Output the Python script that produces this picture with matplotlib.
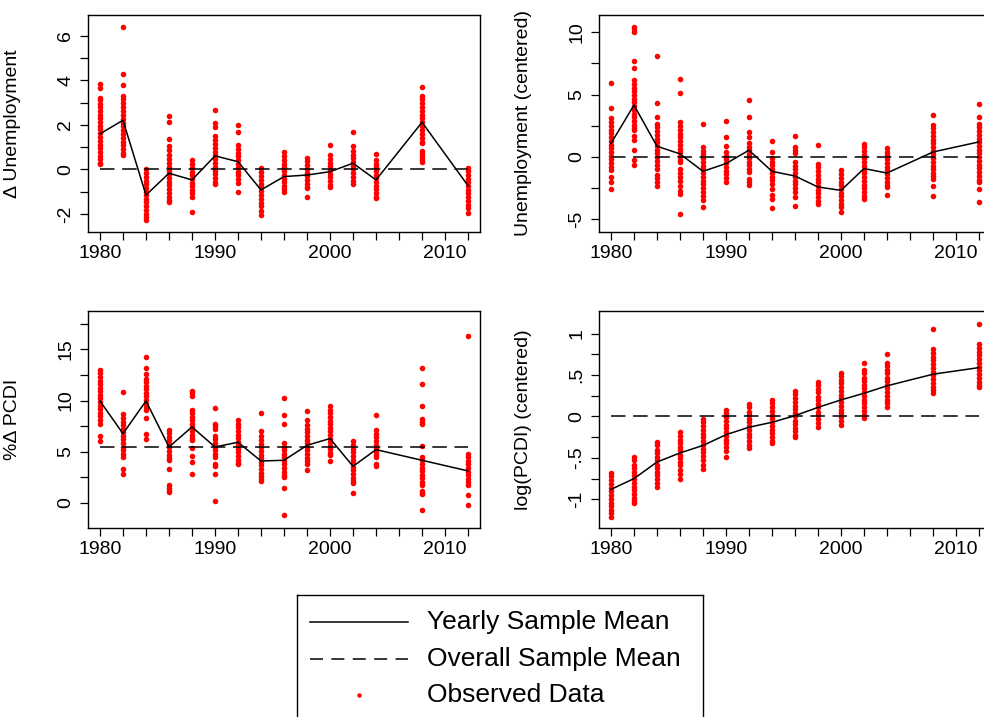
import matplotlib
matplotlib.use("Agg")
import matplotlib.pyplot as plt
import numpy as np

plt.rcParams['font.family'] = ['Liberation Sans', 'DejaVu Sans']

years = [1980, 1982, 1984, 1986, 1988, 1990, 1992, 1994, 1996, 1998, 2000, 2002, 2004, 2008, 2012]

# change in unemployment, one list of observations per year
d_unemp = [
    [3.83, 3.68, 3.23, 3.1, 2.95, 2.8, 2.62, 2.45, 2.3, 2.12, 1.95, 1.8, 1.62, 1.45, 1.3, 1.12, 0.95, 0.8, 0.62, 0.45, 0.3, 0.23],
    [6.39, 4.29, 3.78, 3.32, 3.15, 2.98, 2.8, 2.62, 2.45, 2.28, 2.1, 1.95, 1.78, 1.6, 1.42, 1.25, 1.08, 0.9, 0.75, 0.65],
    [0.01, -0.15, -0.32, -0.5, -0.66, -0.82, -1.0, -1.15, -1.32, -1.48, -1.65, -1.8, -1.98, -2.12, -2.27],
    [2.42, 2.15, 1.37, 1.07, 0.88, 0.65, 0.48, 0.3, 0.12, -0.05, -0.22, -0.4, -0.56, -0.72, -0.9, -1.06, -1.22, -1.38, -1.47],
    [0.42, 0.25, 0.08, -0.1, -0.26, -0.42, -0.6, -0.76, -0.92, -1.08, -1.24, -1.9],
    [2.69, 2.1, 1.92, 1.49, 1.32, 1.15, 0.98, 0.8, 0.63, 0.46, 0.3, 0.12, -0.05, -0.22, -0.4, -0.55, -0.67],
    [2.0, 1.67, 1.1, 0.93, 0.76, 0.6, 0.42, 0.25, 0.08, -0.1, -0.27, -0.45, -0.62, -1.02],
    [0.05, -0.12, -0.3, -0.47, -0.64, -0.8, -0.98, -1.15, -1.32, -1.5, -1.66, -1.85, -2.04],
    [0.77, 0.6, 0.43, 0.26, 0.09, -0.08, -0.25, -0.42, -0.58, -0.75, -0.9, -1.0],
    [0.53, 0.36, 0.2, 0.03, -0.14, -0.3, -0.47, -0.64, -0.8, -0.85, -1.24],
    [1.1, 0.65, 0.48, 0.3, 0.14, -0.03, -0.2, -0.36, -0.52, -0.68, -0.77],
    [1.67, 1.07, 0.83, 0.66, 0.5, 0.33, 0.16, 0.0, -0.17, -0.34, -0.5, -0.67],
    [0.69, 0.43, 0.26, 0.1, -0.07, -0.24, -0.4, -0.57, -0.74, -0.9, -1.07, -1.22, -1.3],
    [3.71, 3.32, 3.15, 2.98, 2.8, 2.63, 2.46, 2.3, 2.12, 1.95, 1.78, 1.6, 1.43, 1.25, 1.18, 0.83, 0.7, 0.55, 0.42, 0.32],
    [0.08, -0.08, -0.25, -0.42, -0.58, -0.75, -0.92, -1.08, -1.25, -1.42, -1.58, -1.72, -1.94],
]
m_unemp = [1.6, 2.21, -1.15, -0.17, -0.47, 0.61, 0.35, -0.92, -0.32, -0.25, -0.1, 0.28, -0.47, 2.12, -0.73]

# unemployment (centered)
c_unemp = [
    [5.9, 3.89, 3.09, 2.8, 2.5, 2.2, 1.9, 1.6, 1.3, 1.0, 0.7, 0.4, 0.1, -0.2, -0.5, -0.8, -1.07, -1.6, -2.0, -2.54],
    [10.45, 10.25, 10.05, 7.72, 7.1, 6.17, 5.87, 5.57, 5.27, 4.97, 4.67, 4.37, 4.07, 3.77, 3.47, 3.17, 2.87, 2.57, 2.3, 2.15, 1.69, 1.34, 0.54, -0.27, -0.67],
    [8.12, 4.29, 3.22, 2.68, 2.38, 2.08, 1.78, 1.48, 1.18, 0.88, 0.58, 0.28, -0.02, -0.32, -0.62, -0.93, -1.41, -1.7, -2.0, -2.33],
    [6.22, 5.1, 2.77, 2.47, 2.17, 1.87, 1.57, 1.27, 0.97, 0.67, 0.37, 0.07, -0.23, -0.4, -0.93, -1.25, -1.6, -1.95, -2.3, -2.7, -2.94, -4.55],
    [2.63, 0.8, 0.5, 0.2, -0.1, -0.4, -0.7, -1.0, -1.3, -1.6, -1.9, -2.2, -2.5, -2.8, -3.1, -3.48, -4.02],
    [2.87, 1.61, 0.88, 0.4, 0.1, -0.2, -0.5, -0.8, -1.1, -1.4, -1.7, -2.0],
    [4.61, 3.22, 2.0, 1.6, 1.13, 0.83, 0.53, 0.23, -0.07, -0.37, -0.67, -0.97, -1.2, -1.74, -2.0, -2.27],
    [1.29, 0.4, -0.08, -0.38, -0.68, -0.98, -1.28, -1.58, -1.88, -2.18, -2.54, -3.08, -3.35, -4.1],
    [1.69, 0.8, 0.55, 0.35, -0.4, -0.7, -1.0, -1.3, -1.6, -1.9, -2.2, -2.5, -2.8, -3.21, -3.94],
    [1.0, -0.53, -0.83, -1.13, -1.43, -1.73, -2.03, -2.33, -2.63, -2.93, -3.23, -3.53, -3.8],
    [-1.07, -1.37, -1.67, -1.97, -2.27, -2.57, -2.87, -3.17, -3.47, -3.77, -4.02, -4.42],
    [1.08, 0.78, 0.48, 0.18, -0.12, -0.42, -0.72, -1.02, -1.32, -1.62, -1.92, -2.22, -2.52, -2.82, -3.12, -3.35],
    [0.72, 0.42, 0.12, -0.18, -0.48, -0.78, -1.08, -1.38, -1.68, -1.98, -2.25, -2.41, -3.02],
    [3.35, 2.6, 2.3, 2.0, 1.7, 1.4, 1.1, 0.8, 0.5, 0.2, -0.1, -0.4, -0.7, -1.0, -1.3, -1.55, -1.74, -2.33, -3.13],
    [4.21, 3.22, 2.68, 2.38, 2.08, 1.78, 1.48, 1.18, 0.88, 0.58, 0.28, -0.02, -0.32, -0.62, -0.92, -1.22, -1.52, -1.82, -2.0, -2.6, -3.62],
]
m_cunemp = [1.08, 4.16, 0.86, 0.25, -1.15, -0.53, 0.54, -1.15, -1.53, -2.41, -2.68, -0.93, -1.29, 0.4, 1.21]

# percent change in PCDI
p_pcdi = [
    [13.0, 12.65, 12.3, 11.95, 11.6, 11.25, 10.9, 10.55, 10.2, 9.85, 9.5, 9.15, 8.8, 8.45, 8.1, 7.75, 6.5, 6.1],
    [10.84, 8.66, 8.3, 7.95, 7.6, 7.25, 6.9, 6.55, 6.2, 5.85, 5.5, 5.15, 4.8, 4.5, 3.36, 2.87],
    [14.26, 13.2, 12.57, 12.15, 11.8, 11.45, 11.1, 10.75, 10.4, 10.05, 9.7, 9.35, 9.05, 8.33, 6.7, 6.2],
    [7.17, 6.82, 6.47, 6.12, 5.77, 5.42, 5.07, 4.72, 4.4, 4.17, 3.36, 1.8, 1.5, 1.25, 1.07],
    [10.94, 10.7, 10.42, 9.12, 8.77, 8.42, 8.07, 7.72, 7.37, 7.02, 6.67, 6.32, 6.12, 5.4, 4.56, 4.0, 2.8],
    [9.31, 7.75, 7.5, 7.27, 6.54, 6.2, 5.85, 5.5, 5.15, 4.8, 4.5, 3.85, 3.58, 2.87, 0.2],
    [8.08, 7.73, 7.38, 7.03, 6.68, 6.33, 5.98, 5.63, 5.28, 4.93, 4.58, 4.23, 3.9, 3.78],
    [8.79, 7.03, 6.5, 6.12, 5.77, 5.42, 5.07, 4.72, 4.37, 4.02, 3.67, 3.32, 2.97, 2.62, 2.3, 2.15],
    [10.29, 8.63, 7.75, 5.86, 5.51, 5.16, 4.81, 4.46, 4.11, 3.76, 3.41, 3.06, 2.75, 2.54, 1.5, -1.2],
    [8.98, 8.08, 7.59, 7.24, 6.89, 6.54, 6.19, 5.84, 5.49, 5.14, 4.79, 4.44, 4.09, 3.78, 3.19],
    [9.44, 9.09, 8.74, 8.39, 8.04, 7.69, 7.34, 6.99, 6.64, 6.29, 5.94, 5.59, 5.24, 4.89, 4.66, 4.07],
    [6.06, 5.63, 5.28, 4.93, 4.58, 4.23, 3.88, 3.53, 3.18, 2.83, 2.48, 2.15, 1.95, 1.01],
    [8.63, 7.1, 6.75, 6.4, 6.05, 5.7, 5.35, 5.0, 4.65, 4.5, 3.78, 3.6],
    [13.18, 11.59, 9.44, 8.24, 7.95, 7.69, 5.57, 4.5, 4.15, 3.8, 3.45, 3.1, 2.75, 2.4, 2.05, 1.73, 1.17, 1.0, 0.85, -0.71],
    [16.31, 4.82, 4.47, 4.12, 3.77, 3.42, 3.07, 2.72, 2.37, 2.02, 1.73, 0.82, -0.22],
]
m_ppcdi = [9.96, 6.77, 9.96, 5.47, 7.42, 5.47, 5.93, 4.1, 4.17, 5.63, 6.29, 3.58, 5.21, 4.17, 3.13]

# log(PCDI) centered
l_pcdi = [
    [-0.68, -0.72, -0.77, -0.81, -0.86, -0.9, -0.95, -0.99, -1.04, -1.08, -1.13, -1.17, -1.21],
    [-0.49, -0.53, -0.58, -0.62, -0.67, -0.71, -0.76, -0.8, -0.85, -0.89, -0.94, -0.98, -1.02, -1.04],
    [-0.31, -0.35, -0.4, -0.44, -0.49, -0.53, -0.58, -0.62, -0.67, -0.71, -0.76, -0.8, -0.85],
    [-0.19, -0.23, -0.28, -0.32, -0.37, -0.41, -0.46, -0.5, -0.55, -0.59, -0.64, -0.7, -0.75],
    [-0.03, -0.07, -0.12, -0.16, -0.21, -0.25, -0.3, -0.34, -0.39, -0.43, -0.48, -0.53, -0.58, -0.63],
    [0.08, 0.04, -0.01, -0.05, -0.1, -0.14, -0.19, -0.23, -0.28, -0.32, -0.37, -0.42, -0.49],
    [0.15, 0.11, 0.06, 0.02, -0.03, -0.07, -0.12, -0.16, -0.21, -0.25, -0.3, -0.35, -0.38],
    [0.2, 0.16, 0.11, 0.07, 0.02, -0.02, -0.07, -0.11, -0.16, -0.2, -0.25, -0.29, -0.32],
    [0.31, 0.27, 0.22, 0.18, 0.13, 0.09, 0.04, 0.0, -0.05, -0.09, -0.14, -0.18, -0.22, -0.25],
    [0.42, 0.38, 0.33, 0.29, 0.24, 0.2, 0.15, 0.11, 0.06, 0.02, -0.03, -0.08, -0.13],
    [0.53, 0.49, 0.44, 0.4, 0.35, 0.31, 0.26, 0.22, 0.17, 0.13, 0.08, 0.04, -0.01, -0.05, -0.1],
    [0.64, 0.56, 0.52, 0.47, 0.43, 0.38, 0.34, 0.29, 0.25, 0.2, 0.16, 0.11, 0.07, 0.02, -0.02],
    [0.76, 0.65, 0.61, 0.56, 0.52, 0.47, 0.43, 0.38, 0.34, 0.29, 0.25, 0.2, 0.16, 0.12],
    [1.06, 0.81, 0.77, 0.72, 0.68, 0.63, 0.59, 0.54, 0.5, 0.45, 0.41, 0.36, 0.32, 0.28],
    [1.12, 0.87, 0.83, 0.78, 0.74, 0.69, 0.65, 0.6, 0.56, 0.51, 0.47, 0.42, 0.38, 0.36],
]
m_lpcdi = [-0.88, -0.75, -0.55, -0.44, -0.35, -0.22, -0.13, -0.07, 0.01, 0.11, 0.2, 0.28, 0.37, 0.51, 0.59]

overall = [0.0, 0.0, 5.47, 0.0]
ylabels = ["\u0394 Unemployment", "Unemployment (centered)", "%\u0394 PCDI", "log(PCDI) (centered)"]

W, H = 984, 717
fig = plt.figure(figsize=(W / 100, H / 100), dpi=100)


def px_axes(x0, y0, x1, y1):
    return fig.add_axes([x0 / W, (H - y1) / H, (x1 - x0) / W, (y1 - y0) / H])


panels = [
    (px_axes(88, 15, 480, 232), d_unemp, m_unemp, (-2.81, 6.94),
     [-2, -1, 0, 1, 2, 3, 4, 5, 6], ["-2", "", "0", "", "2", "", "4", "", "6"]),
    (px_axes(599, 15, 991, 232), c_unemp, m_cunemp, (-6.02, 11.39),
     [-5, -2.5, 0, 2.5, 5, 7.5, 10], ["-5", "", "0", "", "5", "", "10"]),
    (px_axes(88, 311, 480, 528), p_pcdi, m_ppcdi, (-2.44, 18.74),
     [0, 2.5, 5, 7.5, 10, 12.5, 15, 17.5], ["0", "", "5", "", "10", "", "15", ""]),
    (px_axes(599, 311, 991, 528), l_pcdi, m_lpcdi, (-1.346, 1.273),
     [-1, -0.75, -0.5, -0.25, 0, 0.25, 0.5, 0.75, 1], ["-1", "", "-.5", "", "0", "", ".5", "", "1"]),
]

xt = list(range(1980, 2013, 2))
xtl = [str(y) if y % 10 == 0 else "" for y in xt]
dash = (9.5, 5)

for i, (ax, obs, means, ylim, yt, ytl) in enumerate(panels):
    for yr, vals in zip(years, obs):
        ax.plot([yr] * len(vals), vals, 'o', color='#ff0000', ms=4.0, mec='none', zorder=2)
    ax.plot(years, means, '-', color='black', lw=1.1, zorder=3)
    ax.plot([years[0], years[-1]], [overall[i], overall[i]], color='black', lw=1.1,
            dashes=dash, zorder=3)
    ax.set_xlim(1978.96, 2013.04)
    ax.set_ylim(*ylim)
    ax.set_xticks(xt)
    ax.set_xticklabels(xtl)
    ax.set_yticks(yt)
    ax.set_yticklabels(ytl, rotation=90, va='center')
    ax.tick_params(length=5.5, width=0.9, labelsize=14, pad=3.8)
    ax.tick_params(axis='y', pad=4.5)
    for s in ax.spines.values():
        s.set_linewidth(1.0)
    ax.set_ylabel(ylabels[i], fontsize=14)
    ax.yaxis.set_label_coords(-0.17, 0.5)

# legend drawn in its own pixel-unit box
lg = px_axes(297, 595, 703, 740)
lg.set_xlim(0, 406)
lg.set_ylim(145, 0)
lg.set_xticks([])
lg.set_yticks([])
for s in lg.spines.values():
    s.set_linewidth(1.0)
lg.plot([13, 111], [27, 27], color='black', lw=1.1)
lg.plot([13, 111], [64, 64], color='black', lw=1.1, dashes=(8.5, 5.5))
lg.plot([62], [100], 'o', color='#ff0000', ms=3.2, mec='none')
lg.text(130, 27, "Yearly Sample Mean", fontsize=19, va='center')
lg.text(130, 64, "Overall Sample Mean", fontsize=19, va='center')
lg.text(130, 100, "Observed Data", fontsize=19, va='center')

fig.savefig("out.png", dpi=100)
